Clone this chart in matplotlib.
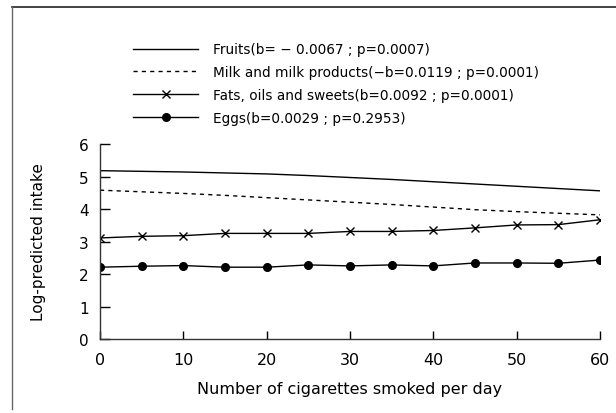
import matplotlib
matplotlib.use('Agg')
import matplotlib.pyplot as plt
from matplotlib.lines import Line2D

cigs = [0, 5, 10, 15, 20, 25, 30, 35, 40, 45, 50, 55, 60]

fruits = [5.18, 5.16, 5.14, 5.11, 5.08, 5.03, 4.97, 4.91, 4.84, 4.77, 4.70, 4.63, 4.56]
milk = [4.58, 4.53, 4.48, 4.42, 4.35, 4.28, 4.21, 4.14, 4.06, 3.98, 3.92, 3.87, 3.82]
fats = [3.11, 3.16, 3.18, 3.25, 3.25, 3.25, 3.31, 3.31, 3.34, 3.42, 3.51, 3.52, 3.67]
eggs = [2.21, 2.24, 2.26, 2.21, 2.21, 2.28, 2.25, 2.28, 2.25, 2.34, 2.34, 2.33, 2.43]

labels = ['Fruits(b= \u2212 0.0067 ; p=0.0007)',
          'Milk and milk products(\u2212b=0.0119 ; p=0.0001)',
          'Fats, oils and sweets(b=0.0092 ; p=0.0001)',
          'Eggs(b=0.0029 ; p=0.2953)']

fig = plt.figure(figsize=(6.16, 4.14), dpi=100)
ax = fig.add_axes([0.1623, 0.1787, 0.8117, 0.4710])

ax.plot(cigs, fruits, color='k', lw=1.0, label=labels[0])
ax.plot(cigs, milk, color='k', lw=1.0, ls=(0, (3, 3)), label=labels[1])
ax.plot(cigs, fats, color='k', lw=1.0, marker='x', ms=5.5, mew=1.0, label=labels[2])
ax.plot(cigs, eggs, color='k', lw=1.0, marker='o', ms=5.5, label=labels[3])

ax.set_xlim(0, 60)
ax.set_ylim(0, 6)
ax.set_xticks(range(0, 61, 10))
ax.set_yticks(range(0, 7))
for s in ['top', 'right']:
    ax.spines[s].set_visible(False)
for s in ['left', 'bottom']:
    ax.spines[s].set_linewidth(1.0)
    ax.spines[s].set_color('#333333')
ax.tick_params(axis='y', direction='in', length=7, width=1, pad=8, labelsize=11)
ax.tick_params(axis='x', direction='in', length=6, width=1, pad=9, labelsize=11.5)

ax.set_ylabel('Log-predicted intake', fontsize=11)
ax.yaxis.set_label_coords(-0.108, 0.5)
ax.set_xlabel('Number of cigarettes smoked per day', fontsize=11.5)
ax.xaxis.set_label_coords(0.5, -0.215)

fig.legend(loc='upper left', bbox_to_anchor=(0.196, 0.925), frameon=False,
           fontsize=9.8, handlelength=4.8, handletextpad=1.1, labelspacing=0.65)

# frame of the scanned figure (top and left edges only)
fig.add_artist(Line2D([0.0195, 1.0], [0.981, 0.981], color='#222222', lw=1.2))
fig.add_artist(Line2D([0.0195, 0.0195], [0.981, 0.01], color='#666666', lw=1.0))

fig.savefig('out.png', dpi=100)
